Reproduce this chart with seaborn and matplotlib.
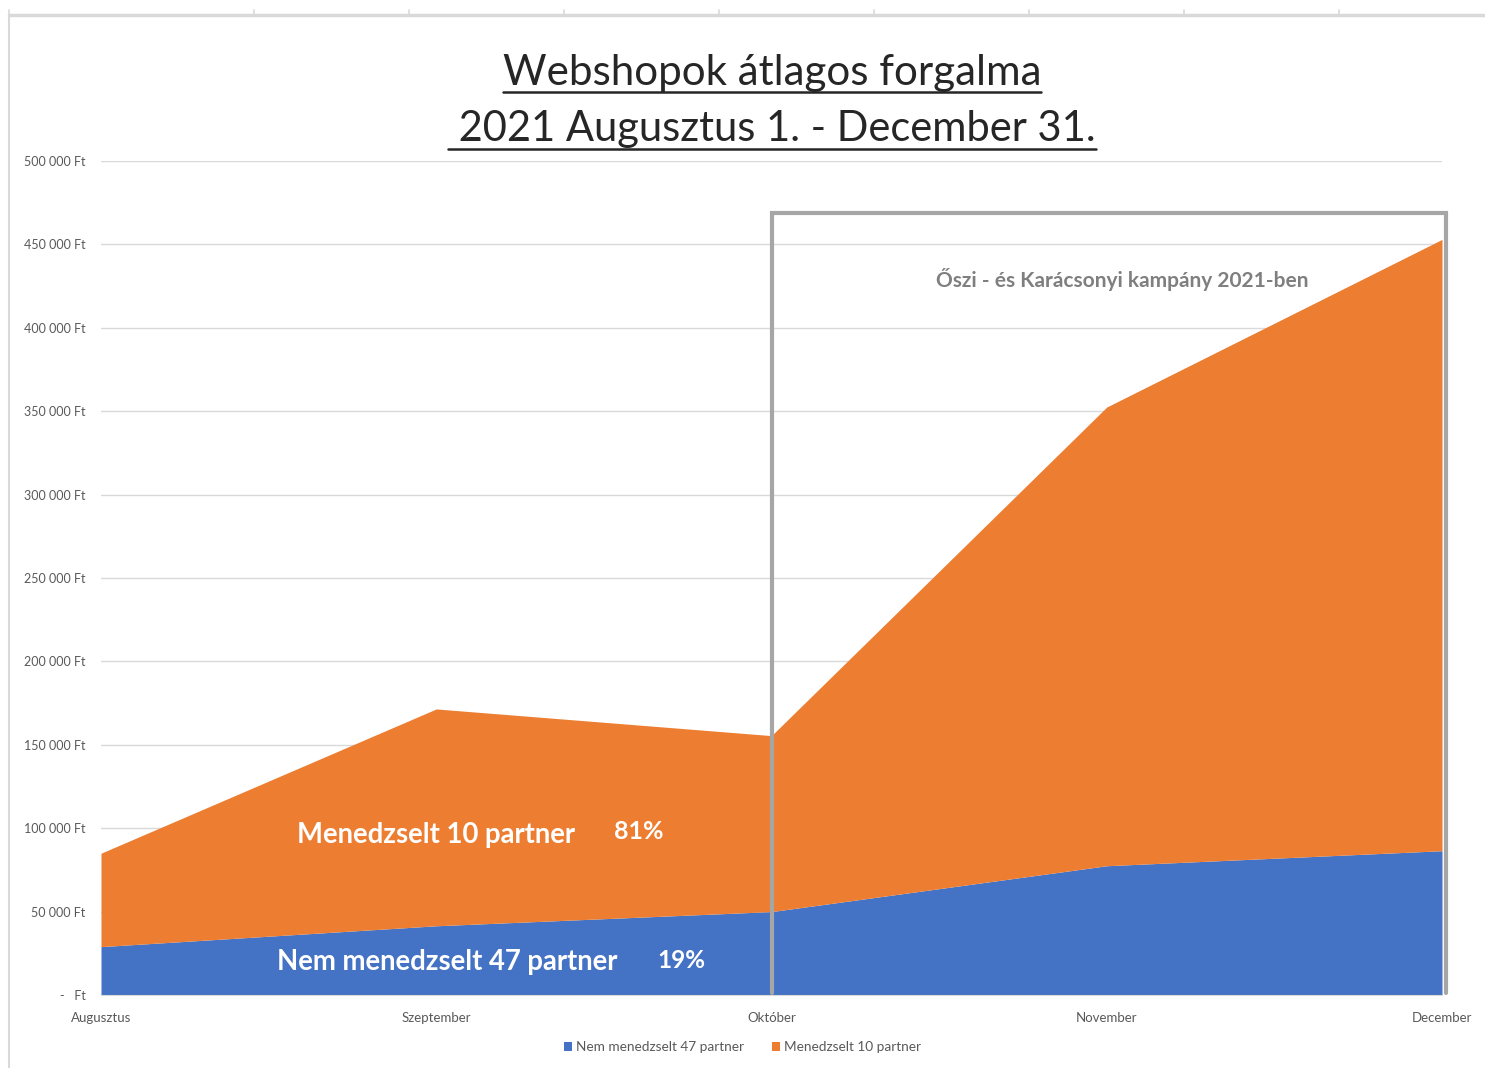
import matplotlib
matplotlib.use("Agg")
import matplotlib.pyplot as plt
import seaborn as sns
import numpy as np
from matplotlib.lines import Line2D
from matplotlib.ticker import FuncFormatter

# ---- data ----
months = ["Augusztus", "Szeptember", "Október", "November", "December"]
nem_menedzselt = [29000, 41500, 50000, 77500, 86500]      # Nem menedzselt 47 partner
menedzselt = [56000, 130000, 105500, 275000, 366500]      # Menedzselt 10 partner
series_labels = ["Nem menedzselt 47 partner", "Menedzselt 10 partner"]
y_ticks = [0, 50000, 100000, 150000, 200000, 250000, 300000, 350000, 400000, 450000, 500000]

sns.set_style("white")
plt.rcParams["font.family"] = ["Lato", "DejaVu Sans"]

BLUE = "#4472C4"
ORANGE = "#ED7D31"
GRAY_TXT = "#595959"

W, H = 1485, 1068
fig = plt.figure(figsize=(W / 100, H / 100), dpi=100)
ax = fig.add_axes([101 / W, 1 - 995 / H, (1442 - 101) / W, (995 - 161) / H])

x = np.arange(len(months))
ax.stackplot(x, nem_menedzselt, menedzselt, colors=[BLUE, ORANGE],
             labels=series_labels, linewidth=0, zorder=2)

ax.set_xlim(0, len(months) - 1)
ax.set_ylim(0, 500000)
ax.set_yticks(y_ticks)
ax.yaxis.set_major_formatter(FuncFormatter(
    lambda v, p: "-   Ft" if v == 0 else f"{int(v):,} Ft".replace(",", " ")))
ax.set_xticks(x)
ax.set_xticklabels(months)
ax.grid(axis="y", color="#d9d9d9", linewidth=1, zorder=0)
ax.set_axisbelow(True)
for s in ["top", "right", "left"]:
    ax.spines[s].set_visible(False)
ax.spines["bottom"].set_color("#d9d9d9")
ax.tick_params(axis="y", length=0, pad=11, labelsize=9, labelcolor=GRAY_TXT)
ax.tick_params(axis="x", length=4, color="#d9d9d9", pad=8, labelsize=9.5, labelcolor=GRAY_TXT)

# campaign box (open at the bottom)
ax.plot([2, 2, 4.012, 4.012], [1200, 469000, 469000, 1200], color="#A6A6A6",
        linewidth=3, clip_on=False, zorder=5, solid_joinstyle="miter")
ax.text(2.49, 429000, "Őszi - és Karácsonyi kampány 2021-ben", color="#7F7F7F",
        fontsize=15, fontweight="bold", ha="left", va="center", zorder=6)

# in-area annotations
ax.text(0.585, 96000, "Menedzselt 10 partner", color="white", fontsize=19.8,
        fontweight="bold", ha="left", va="center", zorder=6)
ax.text(1.53, 98000, "81%", color="white", fontsize=18,
        fontweight="bold", ha="left", va="center", zorder=6)
ax.text(0.525, 19500, "Nem menedzselt 47 partner", color="white", fontsize=19.8,
        fontweight="bold", ha="left", va="center", zorder=6)
ax.text(1.66, 20500, "19%", color="white", fontsize=17.5,
        fontweight="bold", ha="left", va="center", zorder=6)

# legend
leg = fig.legend(loc="center", bbox_to_anchor=(0.5, 1 - 1047 / H), ncol=2,
                 frameon=False, fontsize=9.8, handlelength=0.6, handleheight=0.6,
                 handletextpad=0.3, columnspacing=2.0)
for t in leg.get_texts():
    t.set_color(GRAY_TXT)

# titles
t1 = fig.text(772 / W, 1 - 73 / H, "Webshopok átlagos forgalma", ha="center",
              va="center", fontsize=30.3, color="#262626")
t2 = fig.text(772 / W, 1 - 129 / H, " 2021 Augusztus 1. - December 31.", ha="center",
              va="center", fontsize=30, color="#262626")

fig.canvas.draw()
r = fig.canvas.get_renderer()
for t, yline in [(t1, 92), (t2, 149)]:
    bb = t.get_window_extent(r)
    fig.add_artist(Line2D([bb.x0 / W, bb.x1 / W], [1 - yline / H] * 2,
                          transform=fig.transFigure, color="#262626", linewidth=1.8))

# sheet frame artefacts
frame_c = "#d9d9d9"
fig.add_artist(Line2D([9 / W, 9 / W], [0, 1 - 15 / H], transform=fig.transFigure,
                      color=frame_c, linewidth=1.5))
fig.add_artist(Line2D([9 / W, 1], [1 - 15 / H, 1 - 15 / H], transform=fig.transFigure,
                      color=frame_c, linewidth=2.5))
for px in [9, 254, 409, 564, 719, 874, 1029, 1184, 1339]:
    fig.add_artist(Line2D([px / W, px / W], [1 - 10 / H, 1 - 15 / H],
                          transform=fig.transFigure, color=frame_c, linewidth=1.2))

fig.savefig("out.png", dpi=100, facecolor="white")
